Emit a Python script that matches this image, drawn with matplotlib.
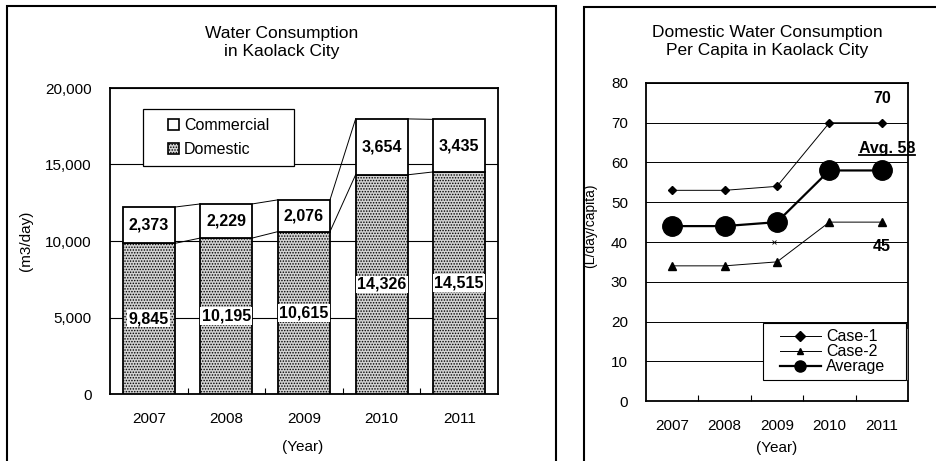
import numpy as np
import matplotlib
matplotlib.use("Agg")
import matplotlib.pyplot as plt
from matplotlib.patches import Rectangle, Patch
from matplotlib.lines import Line2D
from matplotlib.ticker import FuncFormatter, FixedLocator
from matplotlib.transforms import IdentityTransform

plt.rcParams["font.family"] = ["Liberation Sans", "DejaVu Sans"]
plt.rcParams["hatch.linewidth"] = 0.7
plt.rcParams["hatch.color"] = "#555555"

# data
years = ["2007", "2008", "2009", "2010", "2011"]
domestic = [9845, 10195, 10615, 14326, 14515]
commercial = [2373, 2229, 2076, 3654, 3435]

case1 = [53, 53, 54, 70, 70]
case2 = [34, 34, 35, 45, 45]
average = [44, 44, 45, 58, 58]
stray_x = [np.nan, np.nan, 40, np.nan, np.nan]

W, H = 936, 461
fig = plt.figure(figsize=(W / 100, H / 100), dpi=100)

def fx(px):
    return px / W

def fy(py):
    return 1 - py / H

# outer panel frames
fig.add_artist(Rectangle((fx(7), -0.1), fx(556) - fx(7), fy(6) + 0.1,
                         transform=fig.transFigure, fill=False, lw=1.5, ec="black"))
fig.add_artist(Rectangle((fx(584), -0.1), 0.5, fy(7) + 0.1,
                         transform=fig.transFigure, fill=False, lw=1.5, ec="black"))

# ---------------- left chart ----------------
ax1 = fig.add_axes([fx(110), fy(394), fx(498) - fx(110), fy(88) - fy(394)])
x = np.arange(len(years))
bw = 0.67
total = np.array(domestic) + np.array(commercial)
dom_fc = "#d2d2d2"

ax1.bar(x, domestic, bw, color=dom_fc, hatch="......", edgecolor="black", lw=1.3, zorder=3)
ax1.bar(x, commercial, bw, bottom=domestic, color="white", edgecolor="black", lw=1.3, zorder=3)

# series lines between bars
for level in (np.array(domestic), total):
    for i in range(len(years) - 1):
        ax1.plot([x[i] + bw / 2, x[i + 1] - bw / 2], [level[i], level[i + 1]],
                 color="black", lw=0.7, zorder=2)

for i in range(len(years)):
    ax1.text(x[i], domestic[i] / 2, f"{domestic[i]:,}", ha="center", va="center",
             fontsize=11.5, fontweight="bold", zorder=5,
             bbox=dict(boxstyle="square,pad=0.08", fc="white", ec="none"))
    ax1.text(x[i], domestic[i] + commercial[i] / 2, f"{commercial[i]:,}", ha="center",
             va="center", fontsize=11.5, fontweight="bold", zorder=5,
             bbox=dict(boxstyle="square,pad=0.08", fc="white", ec="none"))

ax1.set_xlim(-0.5, len(years) - 0.5)
ax1.set_ylim(0, 20000)
ax1.set_yticks(np.arange(0, 20001, 5000))
ax1.yaxis.set_major_formatter(FuncFormatter(lambda v, p: f"{int(v):,}"))
ax1.set_xticks(x)
ax1.set_xticklabels(years)
ax1.xaxis.set_minor_locator(FixedLocator(x[:-1] + 0.5))
ax1.tick_params(axis="both", which="major", length=0, pad=13, labelsize=11)
ax1.tick_params(axis="x", which="minor", direction="in", length=4, width=0.8)
ax1.grid(axis="y", color="black", lw=0.8, zorder=0)
ax1.set_axisbelow(True)
for s in ax1.spines.values():
    s.set_linewidth(1.3)

# legend box
ax1.add_patch(Rectangle((0.085, 0.745), 0.389, 0.186, transform=ax1.transAxes,
                        fc="white", ec="black", lw=0.9, zorder=6))
leg1 = ax1.legend(handles=[Patch(fc="white", ec="black", lw=1.2, label="Commercial"),
                           Patch(fc=dom_fc, ec="black", lw=1.2, hatch="......", label="Domestic")],
                  loc="center", bbox_to_anchor=(0.28, 0.838), frameon=False,
                  fontsize=11.5, handlelength=0.7, handleheight=0.7, handletextpad=0.3,
                  labelspacing=0.55)
leg1.set_zorder(7)

fig.text(fx(282), fy(42.5), "Water Consumption\nin Kaolack City", ha="center", va="center",
         fontsize=12.5, linespacing=1.3)
fig.text(fx(26), fy(241), "(m3/day)", rotation=90, ha="center", va="center", fontsize=11)
fig.text(fx(303), fy(447), "(Year)", ha="center", va="center", fontsize=11)

# ---------------- right chart ----------------
ax2 = fig.add_axes([fx(646), fy(401), fx(908) - fx(646), fy(83) - fy(401)])
ax2.plot(x, case1, color="black", lw=0.7, marker="D", markersize=4.5, label="Case-1", zorder=4)
ax2.plot(x, case2, color="black", lw=0.7, marker="^", markersize=5.5, label="Case-2", zorder=4)
ax2.plot(x, average, color="black", lw=1.6, marker="o", markersize=14, label="Average", zorder=4)
ax2.plot(x - 0.06, stray_x, ls="none", marker="x", markersize=3, mew=0.6, color="black", zorder=4)

ax2.set_xlim(-0.5, len(years) - 0.5)
ax2.set_ylim(0, 80)
ax2.set_yticks(np.arange(0, 81, 10))
ax2.set_xticks(x)
ax2.set_xticklabels(years)
ax2.xaxis.set_minor_locator(FixedLocator(x[:-1] + 0.5))
ax2.tick_params(axis="both", which="major", length=0, pad=13, labelsize=11)
ax2.tick_params(axis="x", which="minor", direction="in", length=4, width=0.8)
ax2.grid(axis="y", color="black", lw=0.7, zorder=0)
ax2.set_axisbelow(True)
for s in ax2.spines.values():
    s.set_linewidth(1.3)

ax2.text(4, 76.2, "70", ha="center", va="center", fontsize=11.5, fontweight="bold")
ax2.text(4, 38.8, "45", ha="center", va="center", fontsize=11.5, fontweight="bold")
avg_txt = ax2.text(4.1, 63.6, "Avg. 58", ha="center", va="center", fontsize=11.5,
                   fontweight="bold", clip_on=False)

# legend box with a thin shadow on its right side, then the entries on top
ax2.add_patch(Rectangle((0.455, 0.066), 0.545, 0.16, transform=ax2.transAxes,
                        fc="#888888", ec="none", zorder=5))
ax2.add_patch(Rectangle((0.447, 0.066), 0.545, 0.179, transform=ax2.transAxes,
                        fc="white", ec="black", lw=0.8, zorder=6))
leg2 = ax2.legend(loc="center left", bbox_to_anchor=(0.51, 0.155), fontsize=11.5,
                  frameon=False, handlelength=2.6, handletextpad=0.3, labelspacing=0.0,
                  borderpad=0, borderaxespad=0)
leg2.set_zorder(7)
for h in leg2.legend_handles:
    if h.get_label() == "Average":
        h.set_markersize(8)
    else:
        h.set_markersize(5)

fig.text(fx(767), fy(41.5), "Domestic Water Consumption\nPer Capita in Kaolack City",
         ha="center", va="center", fontsize=12.5, linespacing=1.2)
fig.text(fx(590), fy(226), "(L/day/capita)", rotation=90, ha="center", va="center", fontsize=10)
fig.text(fx(777), fy(448), "(Year)", ha="center", va="center", fontsize=11)

# underline for the average label
fig.canvas.draw()
bb = avg_txt.get_window_extent()
fig.add_artist(Line2D([bb.x0, bb.x1], [bb.y0 + 1, bb.y0 + 1], transform=IdentityTransform(),
                      color="black", lw=1.3))

fig.savefig("out.png", dpi=100)
